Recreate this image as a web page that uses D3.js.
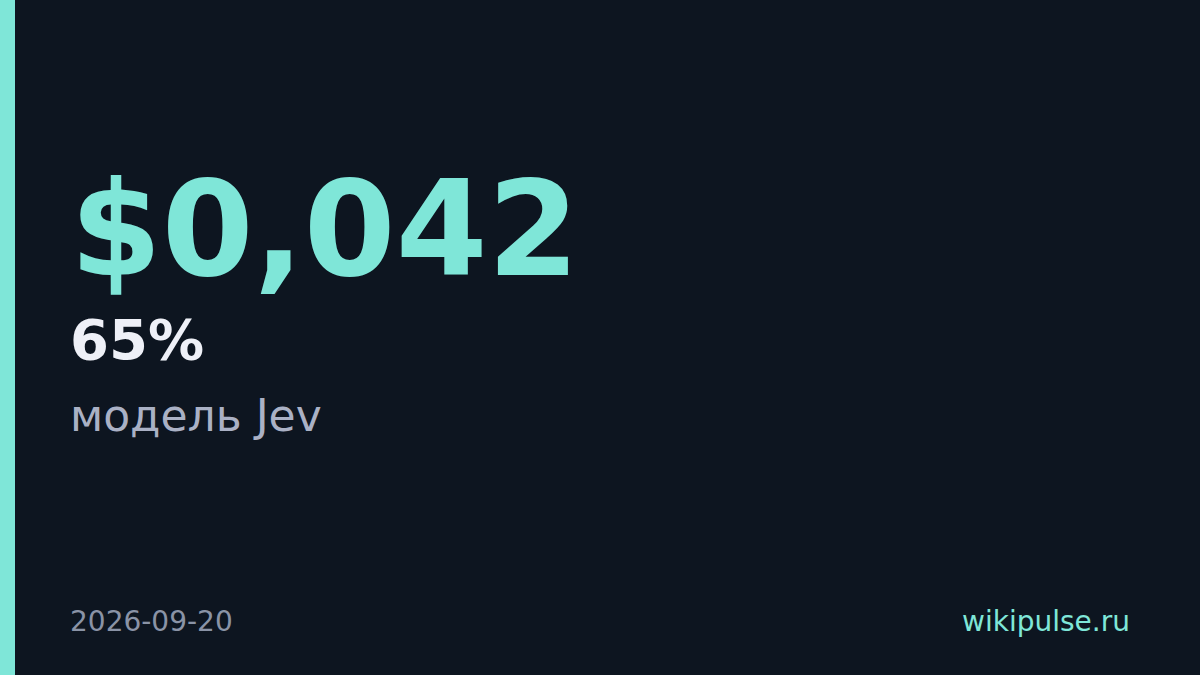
<!DOCTYPE html>
<html>
<head>
<meta charset="utf-8">
<script src="https://cdn.jsdelivr.net/npm/d3@7"></script>
<style>
  html, body { margin: 0; padding: 0; background: #0d1520; }
  svg { display: block; }
</style>
</head>
<body>
<script>
const price = ["$0,042"];
const share = ["65%"];
const label = ["модель Jev"];
const date = ["2026-09-20"];
const site = ["wikipulse.ru"];

const W = 1200, H = 675;
const svg = d3.select("body").append("svg")
    .attr("width", W)
    .attr("height", H)
    .style("font-family", "'DejaVu Sans', sans-serif");

svg.append("rect").attr("width", W).attr("height", H).attr("fill", "#0d1520");
svg.append("rect").attr("width", 15).attr("height", H).attr("fill", "#7fe6d8");

svg.selectAll("text.price").data(price).enter().append("text")
    .attr("class", "price")
    .attr("x", 70).attr("y", 275)
    .attr("font-size", 132).attr("font-weight", "bold")
    .attr("fill", "#7fe6d8")
    .text(d => d);

svg.selectAll("text.share").data(share).enter().append("text")
    .attr("class", "share")
    .attr("x", 70).attr("y", 359)
    .attr("font-size", 56).attr("font-weight", "bold")
    .attr("fill", "#eef0f7")
    .text(d => d);

svg.selectAll("text.label").data(label).enter().append("text")
    .attr("class", "label")
    .attr("x", 70).attr("y", 431)
    .attr("font-size", 44)
    .attr("fill", "#aab1c5")
    .text(d => d);

svg.selectAll("text.date").data(date).enter().append("text")
    .attr("class", "date")
    .attr("x", 70).attr("y", 631)
    .attr("font-size", 28)
    .attr("fill", "#8a93a6")
    .text(d => d);

svg.selectAll("text.site").data(site).enter().append("text")
    .attr("class", "site")
    .attr("x", 1130).attr("y", 631)
    .attr("text-anchor", "end")
    .attr("font-size", 28)
    .attr("fill", "#7fe6d8")
    .text(d => d);
</script>
</body>
</html>
